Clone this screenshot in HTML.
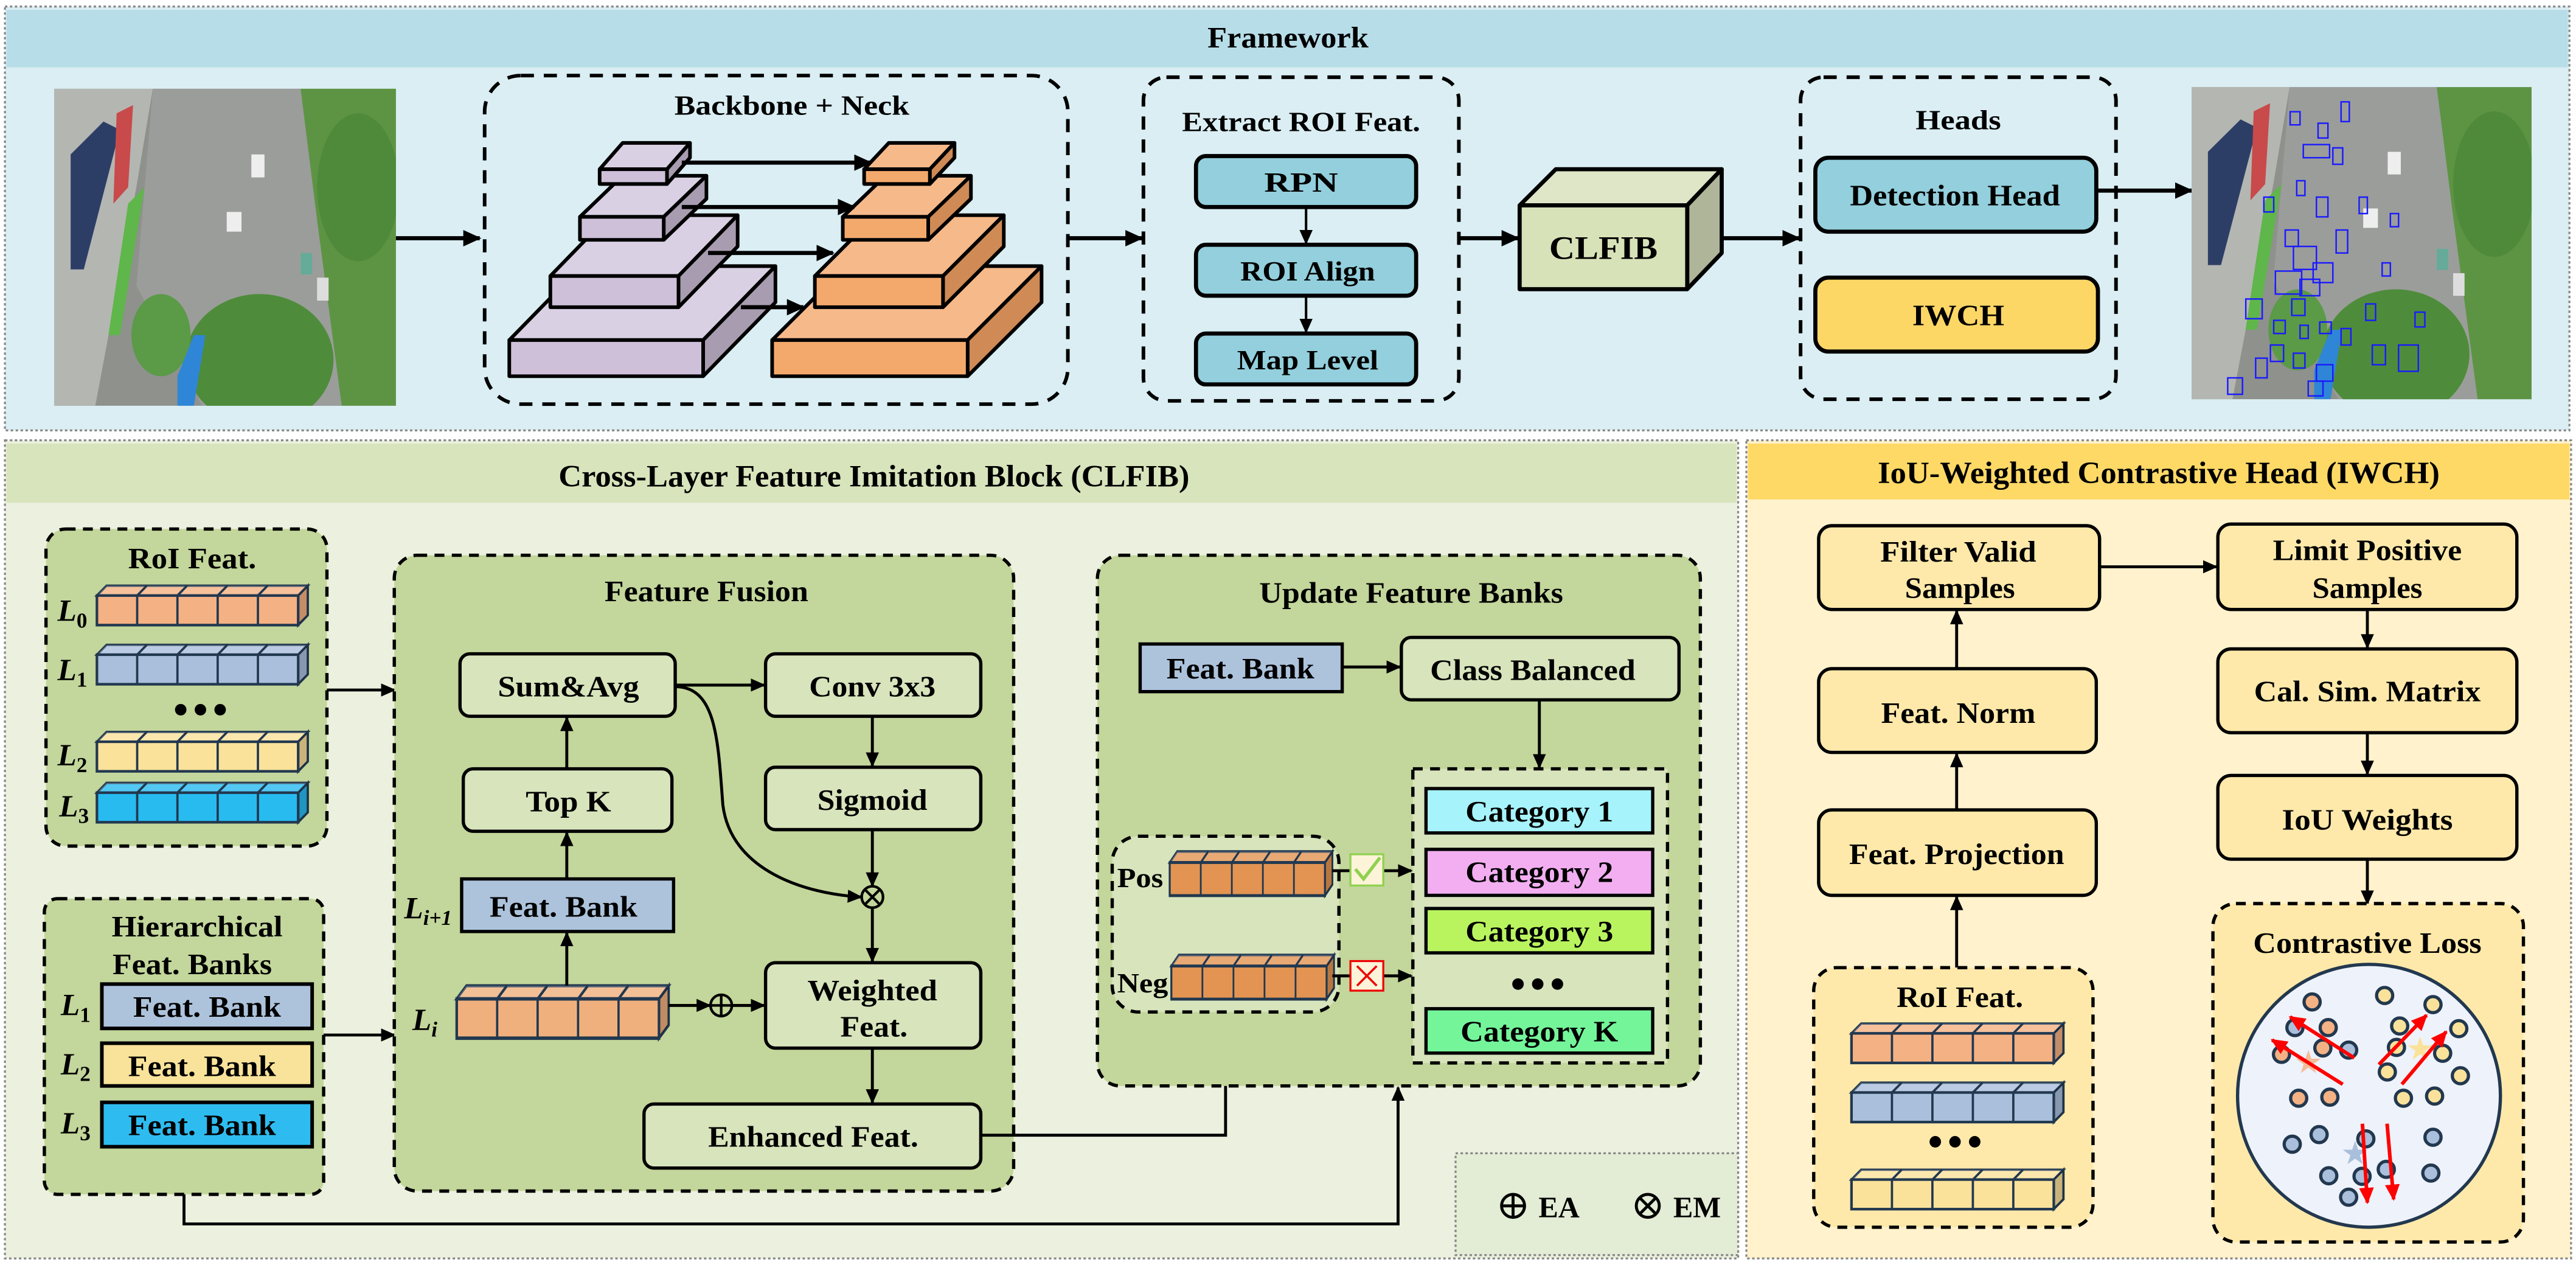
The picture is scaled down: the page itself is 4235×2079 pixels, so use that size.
<!DOCTYPE html>
<html><head><meta charset="utf-8">
<style>
html,body{margin:0;padding:0;background:#fff;}
svg{display:block;}
.t{font-family:"Liberation Serif",serif;font-weight:bold;text-anchor:middle;dominant-baseline:central;fill:#000;}
.i{font-family:"Liberation Serif",serif;font-weight:bold;font-style:italic;fill:#000;}
</style></head>
<body>
<svg width="4235" height="2079" viewBox="0 0 1568 770" preserveAspectRatio="none" xmlns="http://www.w3.org/2000/svg">
<defs>
<marker id="ah" markerUnits="userSpaceOnUse" markerWidth="11" markerHeight="10" refX="10" refY="5" orient="auto"><path d="M0,0 L11,5 L0,10 z" fill="#000"/></marker>
<marker id="ahs" markerUnits="userSpaceOnUse" markerWidth="9" markerHeight="8" refX="8" refY="4" orient="auto"><path d="M0,0 L9,4 L0,8 z" fill="#000"/></marker>
<marker id="ahr" markerUnits="userSpaceOnUse" markerWidth="10" markerHeight="9" refX="9" refY="4.5" orient="auto"><path d="M0,0 L10,4.5 L0,9 z" fill="#f00"/></marker>
<g id="row">
 <polygon points="0,0 6,-6 131,-6 125,0" stroke="#22384f" stroke-width="1.4"/>
 <polygon points="0,0 6,-6 131,-6 125,0" fill="#fff" opacity="0.2"/>
 <polygon points="125,0 131,-6 131,12 125,18" stroke="#22384f" stroke-width="1.4"/>
 <polygon points="125,0 131,-6 131,12 125,18" fill="#000" opacity="0.2"/>
 <rect x="0" y="0" width="125" height="18" stroke="#22384f" stroke-width="1.6"/>
 <path d="M25,0V18M50,0V18M75,0V18M100,0V18M25,0l6,-6M50,0l6,-6M75,0l6,-6M100,0l6,-6" stroke="#22384f" stroke-width="1.4" fill="none"/>
</g>
<clipPath id="cp1"><rect x="33" y="54" width="208" height="193"/></clipPath>
<clipPath id="cp2"><rect x="1334" y="53" width="207" height="190"/></clipPath>
<g id="photo">
 <rect x="0" y="0" width="208" height="193" fill="#8e918c"/>
 <polygon points="0,0 60,0 50,60 25,193 0,193" fill="#b4b6b2"/>
 <polygon points="10,40 30,20 40,25 18,110 10,110" fill="#2d3e66"/>
 <polygon points="38,15 48,10 45,60 36,70" fill="#c94a4a"/>
 <polygon points="45,70 55,60 40,150 33,150" fill="#5fb64a"/>
 <polygon points="60,0 150,0 175,193 90,193 50,120" fill="#9b9d9a"/>
 <polygon points="150,0 208,0 208,193 175,193 160,80" fill="#5d9444"/>
 <ellipse cx="185" cy="60" rx="25" ry="45" fill="#4f8a3a"/>
 <ellipse cx="125" cy="165" rx="45" ry="40" fill="#4e8c3b"/>
 <ellipse cx="65" cy="150" rx="18" ry="25" fill="#5b9a47"/>
 <polygon points="75,175 85,150 92,150 85,193 75,193" fill="#2f86d6"/>
 <rect x="120" y="40" width="8" height="14" fill="#eee"/><rect x="105" y="75" width="9" height="12" fill="#eee"/>
 <rect x="160" y="115" width="7" height="14" fill="#ddd"/><rect x="150" y="100" width="7" height="13" fill="#6a9"/>
</g>
</defs>

<!-- ================= FRAMEWORK ================= -->
<rect x="3" y="4" width="1561" height="258" fill="#daeef3" stroke="#888" stroke-width="1.2" stroke-dasharray="1.5,1.5"/>
<rect x="4" y="6" width="1559" height="35" fill="#b7dde8"/>
<text class="t" x="784" y="23" font-size="18" textLength="98" lengthAdjust="spacingAndGlyphs">Framework</text>

<g clip-path="url(#cp1)"><use href="#photo" transform="translate(33,54)"/></g>
<line x1="241" y1="145" x2="292" y2="145" stroke="#000" stroke-width="2.5" marker-end="url(#ah)"/>

<rect x="295" y="46" width="355" height="200" rx="22" fill="none" stroke="#000" stroke-width="2.2" stroke-dasharray="8,6"/>
<text class="t" x="482" y="64" font-size="17" textLength="143" lengthAdjust="spacingAndGlyphs">Backbone + Neck</text>

<g stroke="#000" stroke-width="2.2" stroke-linejoin="round">
 <polygon points="310,207 354,162 472,162 428,207" fill="#d9d0e4"/><polygon points="428,207 472,162 472,184 428,229" fill="#a89cb0"/><rect x="310" y="207" width="118" height="22" fill="#cfc0da"/>
 <polygon points="335,168 371,131 449,131 413,168" fill="#d9d0e4"/><polygon points="413,168 449,131 449,150 413,187" fill="#a89cb0"/><rect x="335" y="168" width="78" height="19" fill="#cfc0da"/>
 <polygon points="353,132 379,107 430,107 404,132" fill="#d9d0e4"/><polygon points="404,132 430,107 430,121 404,146" fill="#a89cb0"/><rect x="353" y="132" width="51" height="14" fill="#cfc0da"/>
 <polygon points="365,103 379,87 420,87 406,103" fill="#d9d0e4"/><polygon points="406,103 420,87 420,96 406,112" fill="#a89cb0"/><rect x="365" y="103" width="41" height="9" fill="#cfc0da"/>

 <polygon points="470,207 515,162 634,162 589,207" fill="#f6b98a"/><polygon points="589,207 634,162 634,184 589,229" fill="#cf8a55"/><rect x="470" y="207" width="119" height="22" fill="#f4a96c"/>
 <polygon points="496,168 533,131 611,131 574,168" fill="#f6b98a"/><polygon points="574,168 611,131 611,150 574,187" fill="#cf8a55"/><rect x="496" y="168" width="78" height="19" fill="#f4a96c"/>
 <polygon points="513,132 539,107 591,107 565,132" fill="#f6b98a"/><polygon points="565,132 591,107 591,121 565,146" fill="#cf8a55"/><rect x="513" y="132" width="52" height="14" fill="#f4a96c"/>
 <polygon points="526,103 541,87 581,87 566,103" fill="#f6b98a"/><polygon points="566,103 581,87 581,96 566,112" fill="#cf8a55"/><rect x="526" y="103" width="40" height="9" fill="#f4a96c"/>
</g>
<g stroke="#000" stroke-width="2.5">
 <line x1="415" y1="99" x2="530" y2="99" marker-end="url(#ah)"/>
 <line x1="415" y1="126" x2="520" y2="126" marker-end="url(#ah)"/>
 <line x1="431" y1="154" x2="507" y2="154" marker-end="url(#ah)"/>
 <line x1="451" y1="187" x2="489" y2="187" marker-end="url(#ah)"/>
</g>

<line x1="651" y1="145" x2="695" y2="145" stroke="#000" stroke-width="2.5" marker-end="url(#ah)"/>
<rect x="696" y="47" width="192" height="197" rx="14" fill="none" stroke="#000" stroke-width="2.2" stroke-dasharray="8,6"/>
<text class="t" x="792" y="74" font-size="17" textLength="145" lengthAdjust="spacingAndGlyphs">Extract ROI Feat.</text>
<g stroke="#000" stroke-width="2.5" fill="#93cfdc">
 <rect x="728" y="95" width="134" height="31" rx="6"/>
 <rect x="728" y="149" width="134" height="31" rx="6"/>
 <rect x="728" y="203" width="134" height="31" rx="6"/>
</g>
<text class="t" x="792" y="111" font-size="17" textLength="45" lengthAdjust="spacingAndGlyphs">RPN</text>
<text class="t" x="796" y="165" font-size="17" textLength="82" lengthAdjust="spacingAndGlyphs">ROI Align</text>
<text class="t" x="796" y="219" font-size="17" textLength="86" lengthAdjust="spacingAndGlyphs">Map Level</text>
<line x1="795" y1="126" x2="795" y2="148" stroke="#000" stroke-width="1.5" marker-end="url(#ahs)"/>
<line x1="795" y1="180" x2="795" y2="202" stroke="#000" stroke-width="1.5" marker-end="url(#ahs)"/>

<line x1="888" y1="145" x2="924" y2="145" stroke="#000" stroke-width="2.5" marker-end="url(#ah)"/>
<g stroke="#000" stroke-width="2.5" stroke-linejoin="round">
 <polygon points="925,125 947,103 1048,103 1027,125" fill="#dfe6c8"/>
 <polygon points="1027,125 1048,103 1048,154 1027,176" fill="#afb599"/>
 <rect x="925" y="125" width="102" height="51" fill="#d8e2b9"/>
</g>
<text class="t" x="976" y="151" font-size="20" textLength="66" lengthAdjust="spacingAndGlyphs">CLFIB</text>
<line x1="1048" y1="145" x2="1095" y2="145" stroke="#000" stroke-width="2.5" marker-end="url(#ah)"/>

<rect x="1096" y="47" width="192" height="196" rx="14" fill="none" stroke="#000" stroke-width="2.2" stroke-dasharray="8,6"/>
<text class="t" x="1192" y="73" font-size="17" textLength="52" lengthAdjust="spacingAndGlyphs">Heads</text>
<rect x="1105" y="96" width="171" height="45" rx="8" fill="#93cfdc" stroke="#000" stroke-width="2.5"/>
<text class="t" x="1190" y="119" font-size="18" textLength="128" lengthAdjust="spacingAndGlyphs">Detection Head</text>
<rect x="1105" y="169" width="172" height="45" rx="8" fill="#fdd766" stroke="#000" stroke-width="2.5"/>
<text class="t" x="1192" y="192" font-size="18" textLength="56" lengthAdjust="spacingAndGlyphs">IWCH</text>
<line x1="1276" y1="116" x2="1334" y2="116" stroke="#000" stroke-width="2.5" marker-end="url(#ah)"/>

<g clip-path="url(#cp2)"><use href="#photo" transform="translate(1334,53) scale(0.995,0.985)"/>
<g fill="none" stroke="#1a1aff" stroke-width="0.9">
 <rect x="1394" y="68" width="6" height="8"/><rect x="1411" y="75" width="6" height="9"/><rect x="1402" y="88" width="16" height="8"/><rect x="1425" y="62" width="5" height="12"/><rect x="1420" y="90" width="6" height="10"/>
 <rect x="1398" y="110" width="5" height="9"/><rect x="1410" y="120" width="7" height="12"/><rect x="1422" y="140" width="7" height="14"/><rect x="1396" y="150" width="14" height="14"/><rect x="1408" y="160" width="12" height="12"/>
 <rect x="1385" y="165" width="16" height="14"/><rect x="1400" y="170" width="12" height="10"/><rect x="1367" y="182" width="10" height="12"/><rect x="1395" y="182" width="8" height="10"/>
 <rect x="1384" y="195" width="7" height="8"/><rect x="1400" y="198" width="5" height="8"/><rect x="1412" y="196" width="7" height="7"/><rect x="1425" y="200" width="6" height="10"/><rect x="1444" y="210" width="8" height="12"/>
 <rect x="1460" y="210" width="12" height="16"/><rect x="1382" y="210" width="8" height="10"/><rect x="1396" y="215" width="7" height="9"/><rect x="1410" y="222" width="10" height="10"/><rect x="1373" y="218" width="7" height="12"/>
 <rect x="1440" y="185" width="6" height="10"/><rect x="1450" y="160" width="5" height="8"/><rect x="1470" y="190" width="6" height="9"/><rect x="1436" y="120" width="5" height="10"/><rect x="1455" y="130" width="5" height="8"/>
 <rect x="1378" y="120" width="6" height="9"/><rect x="1391" y="140" width="8" height="10"/><rect x="1405" y="232" width="9" height="9"/><rect x="1356" y="230" width="9" height="10"/>
</g></g>

<!-- ================= CLFIB ================= -->
<rect x="3" y="268" width="1055" height="498" fill="#ebf1de" stroke="#888" stroke-width="1.2" stroke-dasharray="1.5,1.5"/>
<rect x="4" y="270" width="1053" height="36" fill="#d8e4bc"/>
<text class="t" x="532" y="290" font-size="19" textLength="384" lengthAdjust="spacingAndGlyphs">Cross-Layer Feature Imitation Block (CLFIB)</text>

<rect x="28" y="322" width="171" height="193" rx="12" fill="#c3d69b" stroke="#000" stroke-width="2" stroke-dasharray="6,4.5"/>
<text class="t" x="117" y="340" font-size="18" textLength="78" lengthAdjust="spacingAndGlyphs">RoI Feat.</text>
<use href="#row" fill="#f4b183" transform="translate(59,362.5) scale(0.98,1)"/>
<use href="#row" fill="#a9bfdc" transform="translate(59,398.5) scale(0.98,1)"/>
<use href="#row" fill="#fbe29a" transform="translate(59,451.5) scale(0.98,1)"/>
<use href="#row" fill="#27bbf0" transform="translate(59,482.5) scale(0.98,1)"/>
<circle cx="110" cy="432" r="3.5"/><circle cx="122" cy="432" r="3.5"/><circle cx="134" cy="432" r="3.5"/>
<text class="i" x="35" y="378" font-size="19">L<tspan font-size="13" font-style="normal" dy="4">0</tspan></text>
<text class="i" x="35" y="414" font-size="19">L<tspan font-size="13" font-style="normal" dy="4">1</tspan></text>
<text class="i" x="35" y="466" font-size="19">L<tspan font-size="13" font-style="normal" dy="4">2</tspan></text>
<text class="i" x="36" y="497" font-size="19">L<tspan font-size="13" font-style="normal" dy="4">3</tspan></text>

<rect x="27" y="547" width="170" height="180" rx="8" fill="#c3d69b" stroke="#000" stroke-width="2" stroke-dasharray="6,4.5"/>
<text class="t" x="120" y="564" font-size="18" textLength="104" lengthAdjust="spacingAndGlyphs">Hierarchical</text>
<text class="t" x="117" y="587" font-size="18" textLength="97" lengthAdjust="spacingAndGlyphs">Feat. Banks</text>
<rect x="62" y="599" width="128" height="27" fill="#adc3dc" stroke="#000" stroke-width="2.2"/>
<rect x="62" y="635" width="128" height="26" fill="#f9e39a" stroke="#000" stroke-width="2.2"/>
<rect x="62" y="671" width="128" height="27" fill="#2ebcf0" stroke="#000" stroke-width="2.2"/>
<text class="t" x="126" y="613" font-size="18" textLength="90" lengthAdjust="spacingAndGlyphs">Feat. Bank</text>
<text class="t" x="123" y="649" font-size="18" textLength="90" lengthAdjust="spacingAndGlyphs">Feat. Bank</text>
<text class="t" x="123" y="685" font-size="18" textLength="90" lengthAdjust="spacingAndGlyphs">Feat. Bank</text>
<text class="i" x="37" y="618" font-size="19">L<tspan font-size="13" font-style="normal" dy="4">1</tspan></text>
<text class="i" x="37" y="654" font-size="19">L<tspan font-size="13" font-style="normal" dy="4">2</tspan></text>
<text class="i" x="37" y="690" font-size="19">L<tspan font-size="13" font-style="normal" dy="4">3</tspan></text>

<line x1="199" y1="420" x2="240" y2="420" stroke="#000" stroke-width="1.8" marker-end="url(#ahs)"/>
<line x1="197" y1="630" x2="240" y2="630" stroke="#000" stroke-width="1.8" marker-end="url(#ahs)"/>

<rect x="240" y="338" width="377" height="387" rx="14" fill="#c3d69b" stroke="#000" stroke-width="2" stroke-dasharray="6,4.5"/>
<text class="t" x="430" y="360" font-size="18" textLength="124" lengthAdjust="spacingAndGlyphs">Feature Fusion</text>
<g fill="#d8e4bc" stroke="#000" stroke-width="2">
 <rect x="280" y="398" width="131" height="38" rx="6"/>
 <rect x="466" y="398" width="131" height="38" rx="6"/>
 <rect x="282" y="468" width="127" height="38" rx="6"/>
 <rect x="466" y="467" width="131" height="38" rx="6"/>
 <rect x="466" y="586" width="131" height="52" rx="6"/>
 <rect x="392" y="672" width="205" height="39" rx="6"/>
</g>
<rect x="281" y="535" width="129" height="32" fill="#adc3dc" stroke="#000" stroke-width="2"/>
<text class="t" x="346" y="418" font-size="18" textLength="86" lengthAdjust="spacingAndGlyphs">Sum&amp;Avg</text>
<text class="t" x="531" y="418" font-size="18" textLength="77" lengthAdjust="spacingAndGlyphs">Conv 3x3</text>
<text class="t" x="346" y="488" font-size="18" textLength="52" lengthAdjust="spacingAndGlyphs">Top K</text>
<text class="t" x="531" y="487" font-size="18" textLength="67" lengthAdjust="spacingAndGlyphs">Sigmoid</text>
<text class="t" x="343" y="552" font-size="18" textLength="90" lengthAdjust="spacingAndGlyphs">Feat. Bank</text>
<text class="t" x="531" y="603" font-size="18" textLength="79" lengthAdjust="spacingAndGlyphs">Weighted</text>
<text class="t" x="532" y="625" font-size="18" textLength="41" lengthAdjust="spacingAndGlyphs">Feat.</text>
<text class="t" x="495" y="692" font-size="18" textLength="128" lengthAdjust="spacingAndGlyphs">Enhanced Feat.</text>
<use href="#row" fill="#f0b07e" transform="translate(278,608) scale(0.985,1.33)"/>
<text class="i" x="246" y="559" font-size="19">L<tspan font-size="13" dy="4">i+1</tspan></text>
<text class="i" x="251" y="627" font-size="19">L<tspan font-size="13" dy="4">i</tspan></text>
<g stroke="#000" stroke-width="1.8" fill="none">
 <line x1="411" y1="417" x2="465" y2="417" marker-end="url(#ahs)"/>
 <line x1="531" y1="436" x2="531" y2="466" marker-end="url(#ahs)"/>
 <line x1="531" y1="505" x2="531" y2="539" marker-end="url(#ahs)"/>
 <line x1="531" y1="553" x2="531" y2="585" marker-end="url(#ahs)"/>
 <path d="M411,418 C436,418 437,450 440,490 C445,530 490,544 524,546" marker-end="url(#ahs)"/>
 <line x1="345" y1="468" x2="345" y2="437" marker-end="url(#ahs)"/>
 <line x1="345" y1="535" x2="345" y2="507" marker-end="url(#ahs)"/>
 <line x1="345" y1="600" x2="345" y2="568" marker-end="url(#ahs)"/>
 <line x1="407" y1="612" x2="432" y2="612" marker-end="url(#ahs)"/>
 <line x1="446" y1="612" x2="465" y2="612" marker-end="url(#ahs)"/>
 <line x1="531" y1="638" x2="531" y2="671" marker-end="url(#ahs)"/>
 <circle cx="531" cy="546" r="6.5" stroke-width="1.6"/>
 <path d="M526.4,541.4 L535.6,550.6 M535.6,541.4 L526.4,550.6" stroke-width="1.6"/>
 <circle cx="439" cy="612" r="6.5" stroke-width="1.6"/>
 <path d="M432.5,612 H445.5 M439,605.5 V618.5" stroke-width="1.6"/>
 <polyline points="597,691 746,691 746,618" marker-end="url(#ahs)"/>
 <polyline points="112,727 112,745 851,745 851,662" marker-end="url(#ahs)"/>
</g>

<rect x="668" y="338" width="367" height="323" rx="14" fill="#c3d69b" stroke="#000" stroke-width="2" stroke-dasharray="6,4.5"/>
<text class="t" x="859" y="361" font-size="18" textLength="185" lengthAdjust="spacingAndGlyphs">Update Feature Banks</text>
<rect x="694" y="392" width="123" height="29" fill="#adc3dc" stroke="#000" stroke-width="2"/>
<text class="t" x="755" y="407" font-size="18" textLength="90" lengthAdjust="spacingAndGlyphs">Feat. Bank</text>
<rect x="853" y="388" width="169" height="38" rx="6" fill="#d8e4bc" stroke="#000" stroke-width="2"/>
<text class="t" x="933" y="408" font-size="18" textLength="125" lengthAdjust="spacingAndGlyphs">Class Balanced</text>
<line x1="817" y1="406" x2="852" y2="406" stroke="#000" stroke-width="1.8" marker-end="url(#ahs)"/>
<line x1="937" y1="426" x2="937" y2="467" stroke="#000" stroke-width="1.8" marker-end="url(#ahs)"/>
<rect x="860" y="468" width="155" height="179" fill="#d8e4bc" stroke="#000" stroke-width="2" stroke-dasharray="6,4.5"/>
<g stroke="#000" stroke-width="2">
 <rect x="868" y="480" width="138" height="27" fill="#a6f3fb"/>
 <rect x="868" y="517" width="138" height="28" fill="#f2aef0"/>
 <rect x="868" y="553" width="138" height="27" fill="#b9f45f"/>
 <rect x="868" y="614" width="138" height="27" fill="#74f59a"/>
</g>
<text class="t" x="937" y="494" font-size="18" textLength="90" lengthAdjust="spacingAndGlyphs">Category 1</text>
<text class="t" x="937" y="531" font-size="18" textLength="90" lengthAdjust="spacingAndGlyphs">Category 2</text>
<text class="t" x="937" y="567" font-size="18" textLength="90" lengthAdjust="spacingAndGlyphs">Category 3</text>
<text class="t" x="937" y="628" font-size="18" textLength="96" lengthAdjust="spacingAndGlyphs">Category K</text>
<circle cx="924" cy="599" r="3.5"/><circle cx="936" cy="599" r="3.5"/><circle cx="948" cy="599" r="3.5"/>
<rect x="677" y="509" width="138" height="107" rx="16" fill="#d8e4bc" stroke="#000" stroke-width="2" stroke-dasharray="6,4.5"/>
<use href="#row" fill="#e39452" transform="translate(712,525) scale(0.756,1.12)"/>
<use href="#row" fill="#e39452" transform="translate(713,588) scale(0.756,1.12)"/>
<text x="680" y="540" font-family="Liberation Serif,serif" font-weight="bold" font-size="17" textLength="28" lengthAdjust="spacingAndGlyphs">Pos</text>
<text x="680" y="604" font-family="Liberation Serif,serif" font-weight="bold" font-size="17" textLength="31" lengthAdjust="spacingAndGlyphs">Neg</text>
<line x1="811" y1="530" x2="859" y2="530" stroke="#000" stroke-width="1.8" marker-end="url(#ahs)"/>
<line x1="811" y1="594" x2="859" y2="594" stroke="#000" stroke-width="1.8" marker-end="url(#ahs)"/>
<rect x="822" y="520" width="20" height="19" fill="#fdf3d8" stroke="#8fd14f" stroke-width="1.2"/>
<path d="M825,529 L830,535 L840,522" stroke="#8fd14f" stroke-width="2" fill="none"/>
<rect x="822" y="585" width="20" height="18" fill="#fdf3d8" stroke="#e00" stroke-width="1.2"/>
<path d="M826,588 L838,600 M838,588 L826,600" stroke="#e00" stroke-width="1.3"/>

<rect x="886" y="702" width="172" height="62" fill="#e3ecd5" stroke="#888" stroke-width="1.2" stroke-dasharray="1.5,1.5"/>
<g stroke="#000" stroke-width="1.8" fill="none">
 <circle cx="921" cy="734" r="7"/><path d="M914,734H928M921,727V741"/>
 <circle cx="1003" cy="734" r="7"/><path d="M998,729L1008,739M1008,729L998,739"/>
</g>
<text class="t" x="949" y="735" font-size="18" textLength="25" lengthAdjust="spacingAndGlyphs">EA</text>
<text class="t" x="1033" y="735" font-size="18" textLength="29" lengthAdjust="spacingAndGlyphs">EM</text>

<!-- ================= IWCH ================= -->
<rect x="1063" y="268" width="502" height="498" fill="#fff2cc" stroke="#888" stroke-width="1.2" stroke-dasharray="1.5,1.5"/>
<rect x="1064" y="270" width="500" height="34" fill="#ffd966"/>
<text class="t" x="1314" y="288" font-size="19" textLength="342" lengthAdjust="spacingAndGlyphs">IoU-Weighted Contrastive Head (IWCH)</text>
<g fill="#ffe9aa" stroke="#000" stroke-width="2">
 <rect x="1107" y="320" width="171" height="51" rx="8"/>
 <rect x="1350" y="319" width="182" height="52" rx="8"/>
 <rect x="1350" y="395" width="182" height="51" rx="8"/>
 <rect x="1350" y="472" width="182" height="51" rx="8"/>
 <rect x="1107" y="407" width="169" height="51" rx="8"/>
 <rect x="1107" y="493" width="169" height="52" rx="8"/>
</g>
<text class="t" x="1192" y="336" font-size="18" textLength="95" lengthAdjust="spacingAndGlyphs">Filter Valid</text>
<text class="t" x="1193" y="358" font-size="18" textLength="67" lengthAdjust="spacingAndGlyphs">Samples</text>
<text class="t" x="1441" y="335" font-size="18" textLength="115" lengthAdjust="spacingAndGlyphs">Limit Positive</text>
<text class="t" x="1441" y="358" font-size="18" textLength="67" lengthAdjust="spacingAndGlyphs">Samples</text>
<text class="t" x="1441" y="421" font-size="18" textLength="138" lengthAdjust="spacingAndGlyphs">Cal. Sim. Matrix</text>
<text class="t" x="1441" y="499" font-size="18" textLength="104" lengthAdjust="spacingAndGlyphs">IoU Weights</text>
<text class="t" x="1192" y="434" font-size="18" textLength="94" lengthAdjust="spacingAndGlyphs">Feat. Norm</text>
<text class="t" x="1191" y="520" font-size="18" textLength="131" lengthAdjust="spacingAndGlyphs">Feat. Projection</text>
<g stroke="#000" stroke-width="1.8" fill="none">
 <line x1="1278" y1="345" x2="1349" y2="345" marker-end="url(#ahs)"/>
 <line x1="1191" y1="407" x2="1191" y2="372" marker-end="url(#ahs)"/>
 <line x1="1191" y1="493" x2="1191" y2="459" marker-end="url(#ahs)"/>
 <line x1="1191" y1="589" x2="1191" y2="546" marker-end="url(#ahs)"/>
 <line x1="1441" y1="371" x2="1441" y2="394" marker-end="url(#ahs)"/>
 <line x1="1441" y1="446" x2="1441" y2="471" marker-end="url(#ahs)"/>
 <line x1="1441" y1="523" x2="1441" y2="550" marker-end="url(#ahs)"/>
</g>
<rect x="1104" y="589" width="170" height="158" rx="14" fill="#ffe9aa" stroke="#000" stroke-width="2" stroke-dasharray="6,4.5"/>
<text class="t" x="1193" y="607" font-size="18" textLength="77" lengthAdjust="spacingAndGlyphs">RoI Feat.</text>
<use href="#row" fill="#f4b183" transform="translate(1127,629) scale(0.985,1)"/>
<use href="#row" fill="#a9bfdc" transform="translate(1127,665) scale(0.985,1)"/>
<use href="#row" fill="#fbe29a" transform="translate(1127,718) scale(0.985,1)"/>
<circle cx="1178" cy="695" r="3.5"/><circle cx="1190" cy="695" r="3.5"/><circle cx="1202" cy="695" r="3.5"/>

<rect x="1347" y="550" width="189" height="206" rx="14" fill="#ffe9aa" stroke="#000" stroke-width="2" stroke-dasharray="6,4.5"/>
<text class="t" x="1441" y="574" font-size="18" textLength="139" lengthAdjust="spacingAndGlyphs">Contrastive Loss</text>
<circle cx="1442" cy="667" r="80" fill="#eef2fa" stroke="#22384f" stroke-width="2"/>
<g transform="translate(1055.2,259.2) scale(0.327,0.3256)">
 <g stroke="#22384f" stroke-width="6">
  <g fill="#f4b183"><circle cx="1077" cy="1077" r="15"/><circle cx="1107" cy="1125" r="15"/><circle cx="1097" cy="1163" r="15"/><circle cx="1052" cy="1257" r="15"/><circle cx="1110" cy="1255" r="15"/><circle cx="1020" cy="1175" r="15"/></g>
  <g fill="#fbe29a"><circle cx="1212" cy="1065" r="15"/><circle cx="1302" cy="1082" r="15"/><circle cx="1240" cy="1122" r="15"/><circle cx="1350" cy="1127" r="15"/><circle cx="1234" cy="1162" r="15"/><circle cx="1320" cy="1173" r="15"/><circle cx="1217" cy="1208" r="15"/><circle cx="1353" cy="1215" r="15"/><circle cx="1247" cy="1257" r="15"/><circle cx="1305" cy="1253" r="15"/></g>
  <g fill="#a9bfdc"><circle cx="1040" cy="1343" r="15"/><circle cx="1090" cy="1325" r="15"/><circle cx="1177" cy="1333" r="15"/><circle cx="1302" cy="1330" r="15"/><circle cx="1108" cy="1402" r="15"/><circle cx="1170" cy="1403" r="15"/><circle cx="1215" cy="1390" r="15"/><circle cx="1298" cy="1397" r="15"/><circle cx="1145" cy="1442" r="15"/><circle cx="1045" cy="1125" r="15"/><circle cx="1145" cy="1167" r="15"/></g>
 </g>
 <g font-size="60" text-anchor="middle" dominant-baseline="central" font-family="DejaVu Sans,sans-serif">
  <text x="1070" y="1190" fill="#f4b183" opacity="0.8">★</text>
  <text x="1278" y="1165" fill="#fbe29a">★</text>
  <text x="1157" y="1360" fill="#a9bfdc">★</text>
 </g>
</g>
<g stroke="#f00" stroke-width="2.2" fill="none">
 <line x1="1433" y1="644" x2="1394" y2="619" marker-end="url(#ahr)"/>
 <line x1="1426" y1="660" x2="1383" y2="633" marker-end="url(#ahr)"/>
 <line x1="1448" y1="648" x2="1477" y2="618" marker-end="url(#ahr)"/>
 <line x1="1462" y1="660" x2="1489" y2="628" marker-end="url(#ahr)"/>
 <line x1="1438" y1="684" x2="1441" y2="732" marker-end="url(#ahr)"/>
 <line x1="1453" y1="684" x2="1457" y2="730" marker-end="url(#ahr)"/>
</g>
</svg>
</body></html>
